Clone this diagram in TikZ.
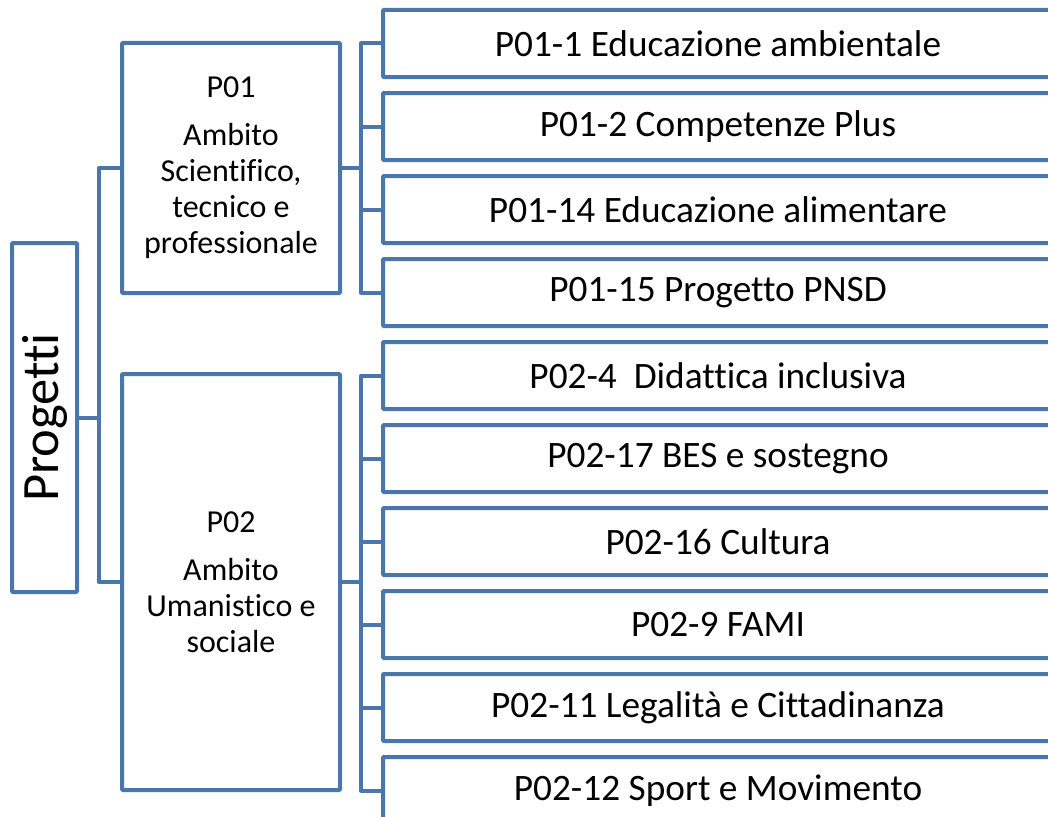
\documentclass[tikz,border=0pt]{standalone}
\usepackage{fontspec}
\setmainfont{Carlito}[Ligatures={NoCommon}]
\definecolor{boxblue}{RGB}{74,118,172}
\begin{document}
\begin{tikzpicture}[x=1pt,y=-1pt,
  box/.style={draw=boxblue,line width=4pt,rounded corners=1pt,fill=white,inner sep=0pt,anchor=center},
  itembox/.style={box,minimum width=670pt,minimum height=67pt,font=\fontsize{37.3}{44}\selectfont},
  catbox/.style={box,minimum width=218pt,align=center,font=\fontsize{32}{36}\selectfont},
  link/.style={draw=boxblue,line width=4pt,line join=round}]
\useasboundingbox (0,0) rectangle (1048,816);
\clip (0,0) rectangle (1048,816);
% root
\node[box,minimum width=65pt,minimum height=349pt] (prog) at (44.5,417.5) {};
\node[rotate=90,font=\fontsize{52.5}{60}\selectfont] (progtxt) at (44.5,417.5) {Progetti};
% categories
\node[catbox,minimum height=250pt] (p01) at (231,168) {P01\\[12pt]Ambito\\Scientifico,\\tecnico e\\professionale};
\node[catbox,minimum height=416pt] (p02) at (231,582) {P02\\[12pt]Ambito\\Umanistico e\\sociale};
% items
\node[itembox] (b1) at (718,43.5) {P01-1 Educazione ambientale};
\node[itembox] (b2) at (718,126.5) {P01-2 Competenze Plus};
\node[itembox] (b3) at (718,209.5) {P01-14 Educazione alimentare};
\node[itembox] (b4) at (718,292.5) {P01-15 Progetto PNSD};
\node[itembox] (b5) at (718,375.5) {P02-4\ \ Didattica inclusiva};
\node[itembox] (b6) at (718,458.5) {P02-17 BES e sostegno};
\node[itembox] (b7) at (718,541.5) {P02-16 Cultura};
\node[itembox] (b8) at (718,624.5) {P02-9 FAMI};
\node[itembox] (b9) at (718,707.5) {P02-11 Legalità e Cittadinanza};
\node[itembox] (b10) at (718,790.5) {P02-12 Sport e Movimento};
% junction coordinates
\coordinate (j0) at (99,417.5);
\coordinate (j1) at (361,168);
\coordinate (j2) at (361,582);
% connectors root
\draw[link] (prog.east) -- (j0);
\draw[link] (p01.west) -- (p01.west -| j0) |- (p02.west);
% connectors P01
\draw[link] (p01.east) -- (j1);
\draw[link] (b1.west) -- (b1.west -| j1) |- (b4.west);
\draw[link] (b2.west) -- (b2.west -| j1);
\draw[link] (b3.west) -- (b3.west -| j1);
% connectors P02
\draw[link] (p02.east) -- (j2);
\draw[link] (b5.west) -- (b5.west -| j2) |- (b10.west);
\draw[link] (b6.west) -- (b6.west -| j2);
\draw[link] (b7.west) -- (b7.west -| j2);
\draw[link] (b8.west) -- (b8.west -| j2);
\draw[link] (b9.west) -- (b9.west -| j2);
\end{tikzpicture}
\end{document}
